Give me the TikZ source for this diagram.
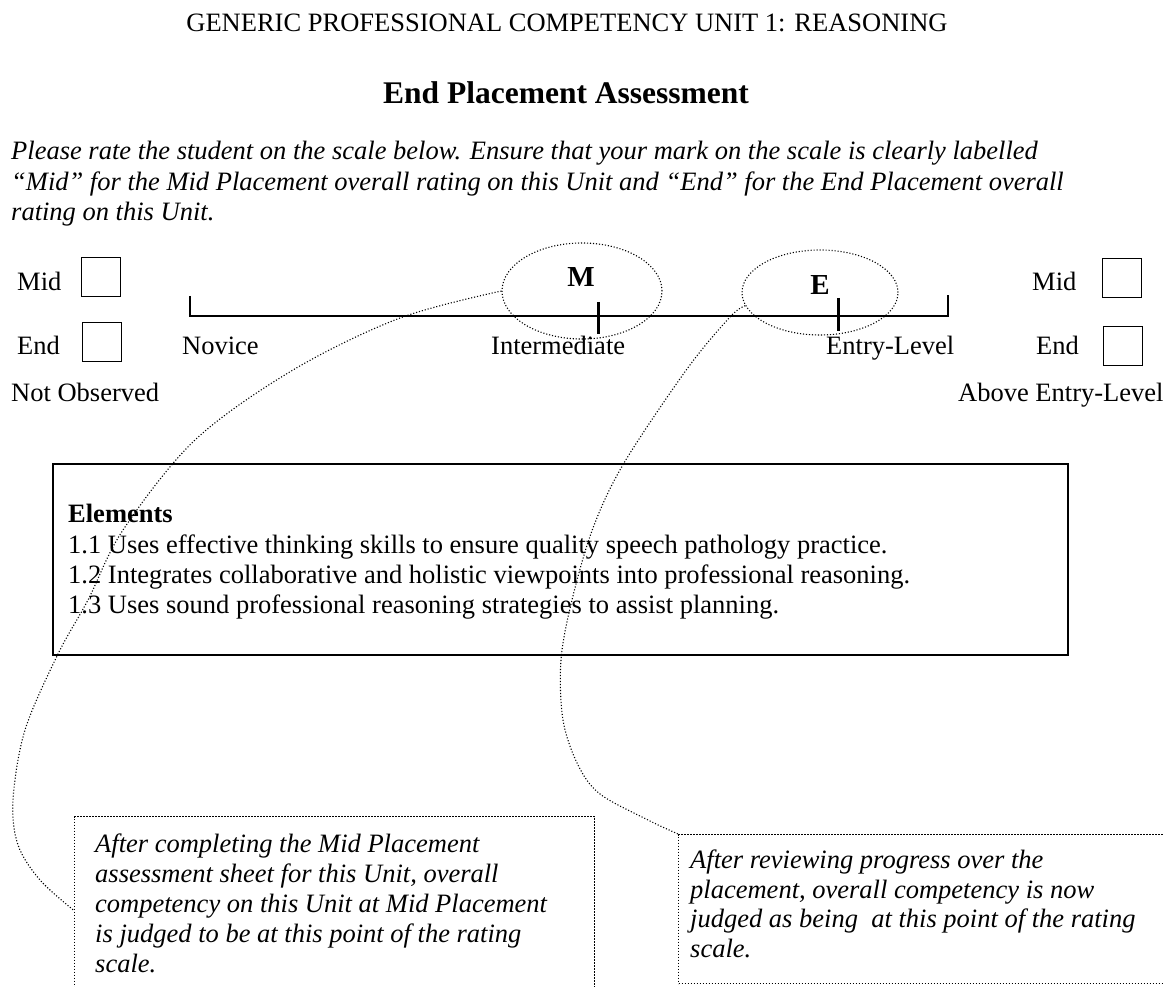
\documentclass[tikz,border=0pt]{standalone}
\usepackage{fontspec}
\setmainfont{Liberation Serif}
\usetikzlibrary{shapes.geometric}
\begin{document}
\begin{tikzpicture}[x=1pt,y=-1pt,
  txt/.style={font=\fontsize{26.5}{30.5}\selectfont, inner sep=0pt, anchor=base west},
  itx/.style={txt, font=\fontsize{26.5}{30.5}\selectfont\itshape},
  ctx/.style={txt, anchor=base},
  marklab/.style={ctx, font=\fontsize{29}{32}\selectfont\bfseries},
  tickbox/.style={draw, line width=1.4pt, minimum width=39pt, minimum height=39pt, inner sep=0pt, anchor=north west},
  dots/.style={line width=1.1pt, dash pattern=on 1.1pt off 1.9pt},
  ell/.style={ellipse, draw, dots, inner sep=0pt},
  callout/.style={draw, dots, inner sep=0pt, anchor=north west},
  tick/.style={line width=3pt}]
\useasboundingbox (0,0) rectangle (1163,987);
\clip (0,0) rectangle (1163,987);

% header
\node[ctx] (title) at (567,32) {GENERIC PROFESSIONAL COMPETENCY UNIT 1: REASONING};
\node[ctx, font=\fontsize{31.5}{36}\selectfont\bfseries] (head) at (566,104) {End Placement Assessment};
\node[itx] (p1) at (11,160) {Please rate the student on the scale below. Ensure that your mark on the scale is clearly labelled};
\node[itx] (p2) at (11,191) {“Mid” for the Mid Placement overall rating on this Unit and “End” for the End Placement overall};
\node[itx] (p3) at (11,221) {rating on this Unit.};

% left check boxes
\node[txt] (lmid) at (17,291) {Mid};
\node[tickbox] (lmidbox) at (81,257) {};
\node[txt] (lend) at (17,355) {End};
\node[tickbox] (lendbox) at (82,322) {};
\node[txt] (notobs) at (11,401) {Not Observed};

% right check boxes
\node[txt] (rmid) at (1032,291) {Mid};
\node[tickbox] (rmidbox) at (1102,258) {};
\node[txt] (rend) at (1036,355) {End};
\node[tickbox] (rendbox) at (1103,326) {};
\node[txt] (above) at (958,401) {Above Entry-Level};

% scale
\coordinate (sl) at (190,296);
\coordinate (sr) at (948,295);
\draw[line width=1.8pt] (sl) -- (190,316) -- (948,316) -- (sr);
\draw[tick] (598,302) -- (598,334);
\draw[tick] (838,298) -- (838,331);
\node[txt] (novice) at (182,355) {Novice};
\node[txt] (inter) at (491,355) {Intermediate};
\node[txt] (entry) at (826,355) {Entry-Level};

% marks
\node[ell, minimum width=160pt, minimum height=96pt] (mell) at (582,291) {};
\node[ell, minimum width=156pt, minimum height=85pt] (eell) at (820,292.5) {};
\node[marklab] (mlab) at (581,287) {M};
\node[marklab] (elab) at (820,295) {E};

% elements box
\node[draw, line width=2pt, minimum width=1015pt, minimum height=191pt, inner sep=0pt, anchor=north west] (elbox) at (52,463) {};
\node[txt, font=\fontsize{26.5}{30.5}\selectfont\bfseries] (elhead) at (68,522) {Elements};
\node[txt] (el1) at (68,553) {1.1 Uses effective thinking skills to ensure quality speech pathology practice.};
\node[txt] (el2) at (68,583) {1.2 Integrates collaborative and holistic viewpoints into professional reasoning.};
\node[txt] (el3) at (68,613) {1.3 Uses sound professional reasoning strategies to assist planning.};

% callout boxes
\node[callout, minimum width=520pt, minimum height=188pt] (lbox) at (74,816) {};
\node[itx] (l1) at (95,852) {After completing the Mid Placement};
\node[itx] (l2) at (95,882) {assessment sheet for this Unit, overall};
\node[itx] (l3) at (95,912) {competency on this Unit at Mid Placement};
\node[itx] (l4) at (95,942) {is judged to be at this point of the rating};
\node[itx] (l5) at (95,972) {scale.};

\node[callout, minimum width=520pt, minimum height=149pt] (rbox) at (678,834) {};
\node[itx] (r1) at (690,868) {After reviewing progress over the};
\node[itx] (r2) at (690,898) {placement, overall competency is now};
\node[itx] (r3) at (690,927) {judged as being\ \ at this point of the rating};
\node[itx] (r4) at (690,957) {scale.};

% connectors
\draw[dots] plot[smooth, tension=0.55] coordinates {(mell.west) (400,318) (293,370) (195,440) (123,530) (88,600) (58,654) (25,730) (13,800) (18,845) (40,880) (lbox.west)};
\draw[dots] plot[smooth, tension=0.55] coordinates {(eell.190) (730,317) (687,369) (624,463) (593,528) (572,600) (561,660) (563,720) (578,765) (600,794) (648,820) (rbox.north west)};
\end{tikzpicture}
\end{document}
